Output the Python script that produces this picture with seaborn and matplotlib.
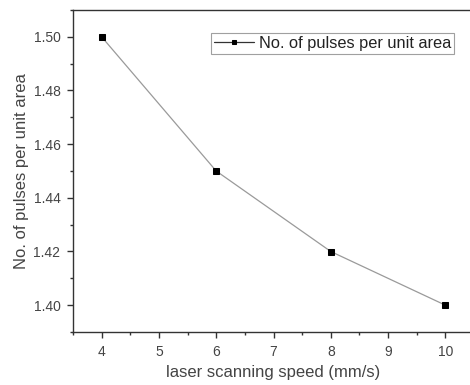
import matplotlib
matplotlib.use("Agg")
import matplotlib.pyplot as plt
from matplotlib.ticker import MultipleLocator, FormatStrFormatter
import seaborn as sns
import pandas as pd

speed = [4, 6, 8, 10]
pulses = [1.50, 1.45, 1.42, 1.40]
series_name = "No. of pulses per unit area"

sns.set_style("ticks")
plt.rcParams["font.family"] = ["Liberation Sans", "DejaVu Sans"]

df = pd.DataFrame({"speed": speed, "pulses": pulses, "series": series_name})

fig = plt.figure(figsize=(4.7, 3.85), dpi=100)
ax = fig.add_axes([73 / 470, 53 / 385, 401 / 470, 322 / 385])

sns.lineplot(data=df, x="speed", y="pulses", hue="series", palette=["#9a9a9a"],
             marker="s", markersize=4.5, markerfacecolor="black",
             markeredgecolor="black", linewidth=0.9, ax=ax)

ax.set_xlim(3.5, 10.5)
ax.set_ylim(1.39, 1.51)
ax.xaxis.set_major_locator(MultipleLocator(1))
ax.xaxis.set_minor_locator(MultipleLocator(0.5))
ax.yaxis.set_major_locator(MultipleLocator(0.02))
ax.yaxis.set_minor_locator(MultipleLocator(0.01))
ax.yaxis.set_major_formatter(FormatStrFormatter("%.2f"))

ax.tick_params(which="major", direction="out", length=4, width=1, colors="#333333",
               labelsize=10, labelcolor="#444444", pad=5)
ax.tick_params(which="minor", direction="out", length=2, width=1, colors="#333333")
for s in ax.spines.values():
    s.set_color("#333333")
    s.set_linewidth(1)

ax.set_xlabel("laser scanning speed (mm/s)", fontsize=12, color="#444444", labelpad=5)
ax.set_ylabel("No. of pulses per unit area", fontsize=12, color="#444444", labelpad=3)

leg = ax.legend(loc="upper left", bbox_to_anchor=(138 / 401, 0.929), fontsize=11.8,
                frameon=True, fancybox=False, borderpad=0.2, handlelength=2.4,
                handletextpad=0.3, borderaxespad=0)
leg.get_frame().set_edgecolor("#888888")
leg.get_frame().set_linewidth(0.8)
for t in leg.get_texts():
    t.set_color("#222222")
for h in leg.get_lines():
    h.set_color("#333333")
    h.set_markersize(3.5)

fig.savefig("out.png", dpi=100)
